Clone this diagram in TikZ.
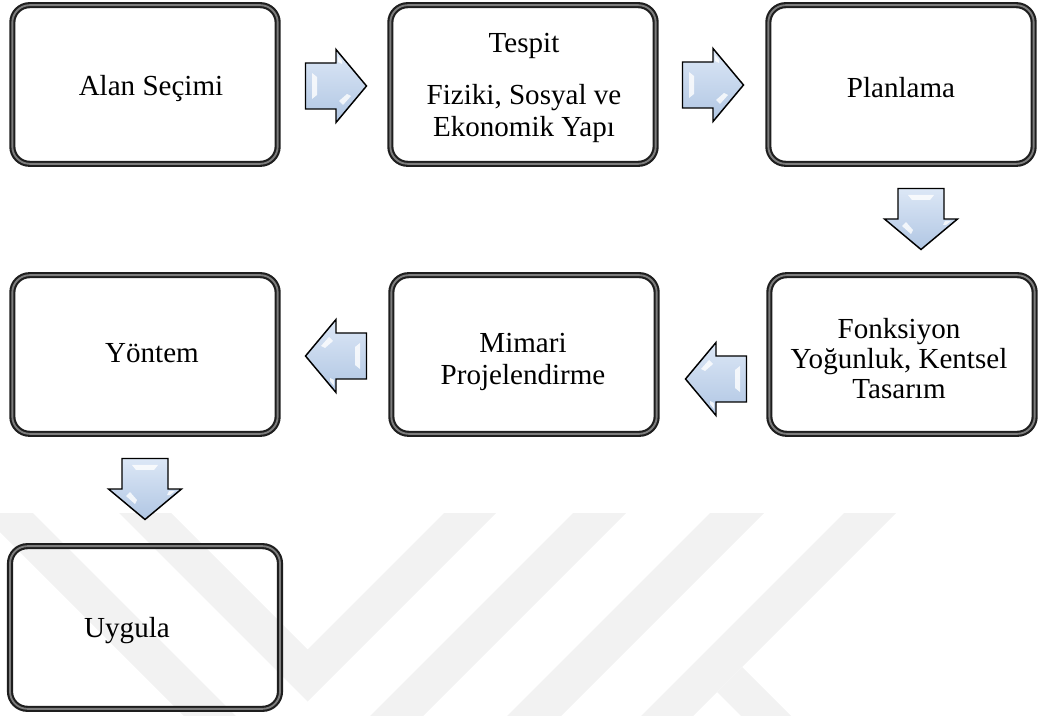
\documentclass[tikz,border=0pt]{standalone}
\usepackage{fontspec}
\setmainfont{Liberation Serif}
\definecolor{wm}{RGB}{242,242,242}
\definecolor{boxgray}{RGB}{125,125,125}
\definecolor{boxdark}{RGB}{30,30,30}
\definecolor{arrtop}{RGB}{220,231,246}
\definecolor{arrbot}{RGB}{176,198,227}
\tikzset{
  box/.style={draw=boxdark, line width=1.6pt, double=boxgray, double distance=1.4pt,
    rounded corners=13pt, minimum width=199pt, minimum height=119pt, inner sep=0pt},
  bigbox/.style={box, minimum width=202.5pt, minimum height=122pt},
  txt/.style={font=\fontsize{21.8}{24}\selectfont, align=center, inner sep=0pt},
  blk/.style={draw=black, line width=1.1pt, line join=miter, top color=arrtop, bottom color=arrbot},
  shine/.style={fill=white, opacity=0.8, draw=none}
}
\newcommand{\blockarrow}[3]{%
  \begin{scope}[shift={(#1,#2)}, rotate=#3]
    \draw[blk] (-30.5,-23) -- (0,-23) -- (0,-36.5) -- (30.5,0) -- (0,36.5) -- (0,23) -- (-30.5,23) -- cycle;
    \path[shine] (-24,-13) -- (-19,-9) -- (-19,9) -- (-24,13) -- cycle;
    \path[shine] (3,15) -- (11,8) -- (15,10) -- (7,19) -- cycle;
    \path[shine] (2,-30) -- (6,-25) -- (6,-22) -- (2,-24) -- cycle;
  \end{scope}}
\begin{document}
\begin{tikzpicture}[x=0.75pt, y=-0.75pt]
\useasboundingbox (0,0) rectangle (1039,716);
% watermark
\begin{scope}
  \clip (0,0) rectangle (1039,716);
  \fill[wm] (-19,513) -- (33,513) -- (236,716) -- (184,716) -- cycle;
  \fill[wm] (119,513) -- (171,513) -- (307.5,649.5) -- (444,513) -- (496,513) -- (307.5,701.5) -- cycle;
  \fill[wm] (573,513) -- (626,513) -- (423,716) -- (370,716) -- cycle;
  \fill[wm] (710,513) -- (764,513) -- (561,716) -- (507,716) -- cycle;
  \fill[wm] (844,513) -- (896,513) -- (693,716) -- (641,716) -- cycle;
  \fill[wm] (742,667) -- (791,716) -- (741,716) -- (717,692) -- cycle;
\end{scope}
% boxes
\node[box] (b1) at (145,84.5) {};
\node[box] (b2) at (523,84.5) {};
\node[box] (b3) at (901,84.5) {};
\node[box] (b4) at (145,354.5) {};
\node[box] (b5) at (524,354.5) {};
\node[box] (b6) at (902,354.5) {};
\node[bigbox] (b7) at (145,627.5) {};
% texts
\node[txt] (t1) at (151,89) {Alan Seçimi};
\node[txt] (t2) at (524,87.5) {Tespit\\[15pt]Fiziki, Sosyal ve\\Ekonomik Yapı};
\node[txt] (t3) at (901,88) {Planlama};
\node[txt] (t4) at (152,353) {Yöntem};
\node[txt] (t5) at (523,362) {Mimari\\Projelendirme};
\node[txt, font=\fontsize{21.8}{22.5}\selectfont] (t6) at (899,359) {Fonksiyon\\Yoğunluk, Kentsel\\Tasarım};
\node[txt] (t7) at (127,631) {Uygula};
% block arrows
\blockarrow{336}{86}{0}
\blockarrow{713}{85}{0}
\blockarrow{921}{219}{-90}
\blockarrow{716}{379}{180}
\blockarrow{336}{356}{180}
\blockarrow{145}{489}{-90}
\end{tikzpicture}
\end{document}
